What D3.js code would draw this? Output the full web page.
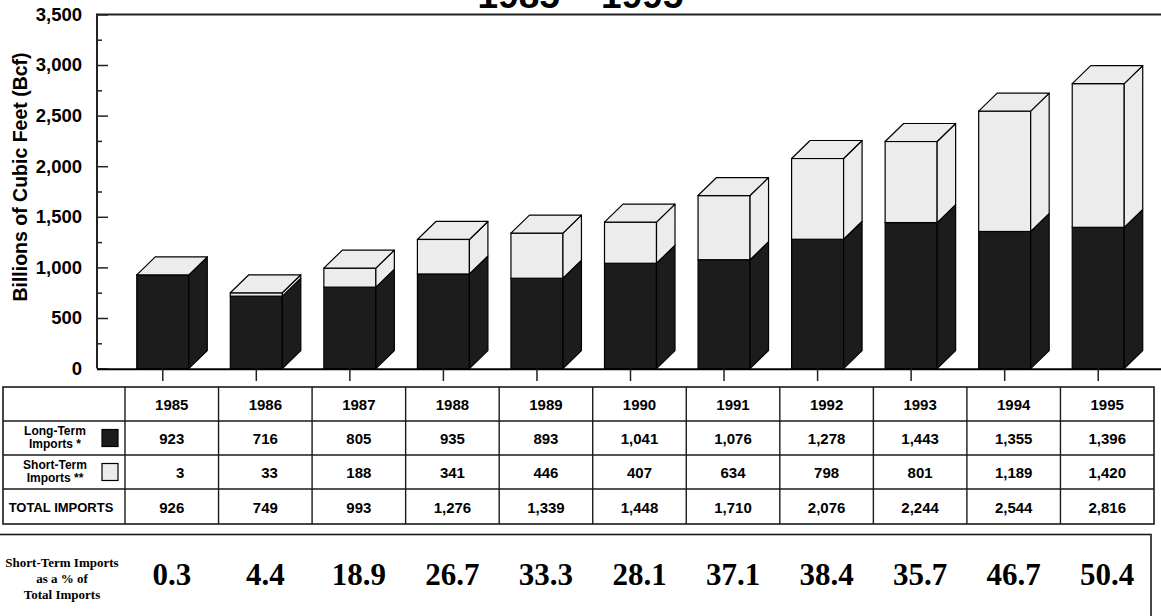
<!DOCTYPE html>
<html>
<head>
<meta charset="utf-8">
<script src="https://cdn.jsdelivr.net/npm/d3@7"></script>
<style>
  html, body { margin: 0; padding: 0; background: #fff; }
  svg { display: block; }
</style>
</head>
<body>
<svg id="chart" width="1161" height="616"></svg>
<script>
// Natural gas imports by contract type, billions of cubic feet
const years = [1985, 1986, 1987, 1988, 1989, 1990, 1991, 1992, 1993, 1994, 1995];
const longTerm = [923, 716, 805, 935, 893, 1041, 1076, 1278, 1443, 1355, 1396];
const shortTerm = [3, 33, 188, 341, 446, 407, 634, 798, 801, 1189, 1420];
const totalImports = [926, 749, 993, 1276, 1339, 1448, 1710, 2076, 2244, 2544, 2816];
const shortSharePct = [0.3, 4.4, 18.9, 26.7, 33.3, 28.1, 37.1, 38.4, 35.7, 46.7, 50.4];
const yTickValues = [0, 500, 1000, 1500, 2000, 2500, 3000, 3500];
const yMinorValues = [250, 750, 1250, 1750, 2250, 2750, 3250];
const titleText = "1985 \u2013 1995";
const yTitle = "Billions of Cubic Feet (Bcf)";

const DARK = "#1c1c1c", LIGHT = "#ececec", LINE = "#1a1a1a";
const SANS = "'Liberation Sans', Arial, Helvetica, sans-serif";
const SERIF = "'Liberation Serif', 'Times New Roman', Times, serif";

const svg = d3.select("#chart");

// Shared column layout for bars and the data table
const x = d3.scaleBand().domain(years).range([125, 1154]).padding(0);
const y = d3.scaleLinear().domain([0, 3500]).range([368.6, 14.4]);
const colCenter = d => x(d) + x.bandwidth() / 2;

const FACE_W = 52, DX = 18.5, DY = 18;
const frontLeft = d => colCenter(d) - 35;

// Title (sits partly above the page edge)
svg.append("text")
  .attr("x", 580.5).attr("y", 7.5)
  .attr("text-anchor", "middle")
  .attr("font-family", SANS).attr("font-weight", "bold").attr("font-size", 37)
  .text(titleText);

// Frame: left axis and top rule
svg.append("line").attr("x1", 97).attr("x2", 1161).attr("y1", 14.4).attr("y2", 14.4)
  .attr("stroke", "#222").attr("stroke-width", 2);
svg.append("line").attr("x1", 97).attr("x2", 97).attr("y1", 13.4).attr("y2", y(0))
  .attr("stroke", "#222").attr("stroke-width", 2);

// Y axis: major ticks point into the plot, labels on the left
const yAxis = d3.axisLeft(y).tickValues(yTickValues).tickSizeInner(-11).tickSizeOuter(0)
  .tickPadding(15).tickFormat(d3.format(","));
const gy = svg.append("g").attr("transform", "translate(97,0)").call(yAxis);
gy.select(".domain").remove();
gy.selectAll(".tick line").attr("stroke", "#222").attr("stroke-width", 1.5);
gy.selectAll(".tick text").attr("font-family", SANS).attr("font-weight", "bold")
  .attr("font-size", 18.5).attr("fill", "#000");

const yMinor = d3.axisLeft(y).tickValues(yMinorValues).tickSizeInner(-5).tickSizeOuter(0).tickFormat("");
const gm = svg.append("g").attr("transform", "translate(97,0)").call(yMinor);
gm.select(".domain").remove();
gm.selectAll(".tick line").attr("stroke", "#222").attr("stroke-width", 1.5);

svg.append("text")
  .attr("transform", "translate(27,177) rotate(-90)")
  .attr("text-anchor", "middle")
  .attr("font-family", SANS).attr("font-weight", "bold").attr("font-size", 19.5)
  .text(yTitle);

// Stacked 3-D bars
const rows = years.map((yr, i) => ({ year: yr, long: longTerm[i], short: shortTerm[i] }));
const stacked = d3.stack().keys(["long", "short"])(rows);
const fills = { long: DARK, short: LIGHT };

const barG = svg.append("g");
years.forEach((yr, i) => {
  const g = barG.append("g");
  const x0 = frontLeft(yr), x1 = x0 + FACE_W;
  stacked.forEach(layer => {
    const [v0, v1] = layer[i];
    if (v1 <= v0) return;
    const yb = y(v0), yt = y(v1);
    const fill = fills[layer.key];
    g.append("rect")
      .attr("x", x0).attr("y", yt).attr("width", FACE_W).attr("height", yb - yt)
      .attr("fill", fill).attr("stroke", "#000").attr("stroke-width", 1.2);
    g.append("path")
      .attr("d", d3.line()([[x1, yt], [x1 + DX, yt - DY], [x1 + DX, yb - DY], [x1, yb]]) + "Z")
      .attr("fill", fill).attr("stroke", "#000").attr("stroke-width", 1.2)
      .attr("stroke-linejoin", "round");
  });
  const top = stacked[stacked.length - 1][i][1];
  const yt = y(top);
  g.append("path")
    .attr("d", d3.line()([[x0, yt], [x0 + DX, yt - DY], [x1 + DX, yt - DY], [x1, yt]]) + "Z")
    .attr("fill", LIGHT).attr("stroke", "#000").attr("stroke-width", 1.2)
    .attr("stroke-linejoin", "round");
});

// Baseline and category ticks
svg.append("line").attr("x1", 97).attr("x2", 1161).attr("y1", y(0) + 0.6).attr("y2", y(0) + 0.6)
  .attr("stroke", "#000").attr("stroke-width", 2);
svg.append("g").selectAll("line").data(years).join("line")
  .attr("x1", d => frontLeft(d) + FACE_W / 2).attr("x2", d => frontLeft(d) + FACE_W / 2)
  .attr("y1", y(0)).attr("y2", 381)
  .attr("stroke", "#222").attr("stroke-width", 1.5);

// Data table
const rowEdges = [387, 421, 455, 489, 524];
const tableLeft = 3, tableRight = 1154;
const tbl = svg.append("g");
tbl.append("rect").attr("x", tableLeft).attr("y", rowEdges[0])
  .attr("width", tableRight - tableLeft).attr("height", rowEdges[4] - rowEdges[0])
  .attr("fill", "none").attr("stroke", LINE).attr("stroke-width", 1.6);
tbl.selectAll("line.h").data(rowEdges.slice(1, 4)).join("line").attr("class", "h")
  .attr("x1", tableLeft).attr("x2", tableRight).attr("y1", d => d).attr("y2", d => d)
  .attr("stroke", LINE).attr("stroke-width", 1.4);
tbl.selectAll("line.v").data(years).join("line").attr("class", "v")
  .attr("x1", d => x(d)).attr("x2", d => x(d)).attr("y1", rowEdges[0]).attr("y2", rowEdges[4])
  .attr("stroke", LINE).attr("stroke-width", 1.4);

const rowMid = k => (rowEdges[k] + rowEdges[k + 1]) / 2;
const fmt = d3.format(",");
const numberRows = [
  { values: years.map(String), k: 0 },
  { values: longTerm.map(fmt), k: 1 },
  { values: shortTerm.map(fmt), k: 2 },
  { values: totalImports.map(fmt), k: 3 }
];
numberRows.forEach(r => {
  tbl.append("g").selectAll("text").data(years).join("text")
    .attr("x", (d, i) => r.k > 0 && r.values[i].length < 3 ? colCenter(d) + 12.5 : colCenter(d))
    .attr("text-anchor", (d, i) => r.k > 0 && r.values[i].length < 3 ? "end" : "middle")
    .attr("y", rowMid(r.k) + 6)
    .attr("font-family", SANS).attr("font-weight", "bold").attr("font-size", 15)
    .text((d, i) => r.values[i]);
});

// Row headings with legend swatches
const headings = [
  { lines: ["Long-Term", "Imports *"], k: 1, fill: DARK },
  { lines: ["Short-Term", "Imports **"], k: 2, fill: LIGHT }
];
headings.forEach(h => {
  const t = tbl.append("text").attr("text-anchor", "middle")
    .attr("font-family", SANS).attr("font-weight", "bold").attr("font-size", 12);
  h.lines.forEach((ln, j) => {
    t.append("tspan").attr("x", 55).attr("y", rowMid(h.k) - 3 + j * 13).text(ln);
  });
  tbl.append("rect").attr("x", 102).attr("y", rowMid(h.k) - 8.5).attr("width", 16).attr("height", 17)
    .attr("fill", h.fill).attr("stroke", "#000").attr("stroke-width", 1.2);
});
tbl.append("text").attr("x", 61).attr("y", rowMid(3) + 5.5).attr("text-anchor", "middle")
  .attr("font-family", SANS).attr("font-weight", "bold").attr("font-size", 13)
  .text("TOTAL IMPORTS");

// Short-term share box
const box = svg.append("g");
box.append("rect").attr("x", -2).attr("y", 534.5).attr("width", 1153).attr("height", 90)
  .attr("fill", "none").attr("stroke", LINE).attr("stroke-width", 1.6);
const shareLabel = box.append("text").attr("text-anchor", "middle")
  .attr("font-family", SERIF).attr("font-weight", "bold").attr("font-size", 13);
["Short-Term Imports", "as a % of", "Total Imports"].forEach((ln, j) => {
  shareLabel.append("tspan").attr("x", 62).attr("y", 567 + j * 16).text(ln);
});
box.append("g").selectAll("text").data(years).join("text")
  .attr("x", d => colCenter(d)).attr("y", 584.5)
  .attr("text-anchor", "middle")
  .attr("font-family", SERIF).attr("font-weight", "bold").attr("font-size", 31)
  .text((d, i) => shortSharePct[i].toFixed(1));
</script>
</body>
</html>
